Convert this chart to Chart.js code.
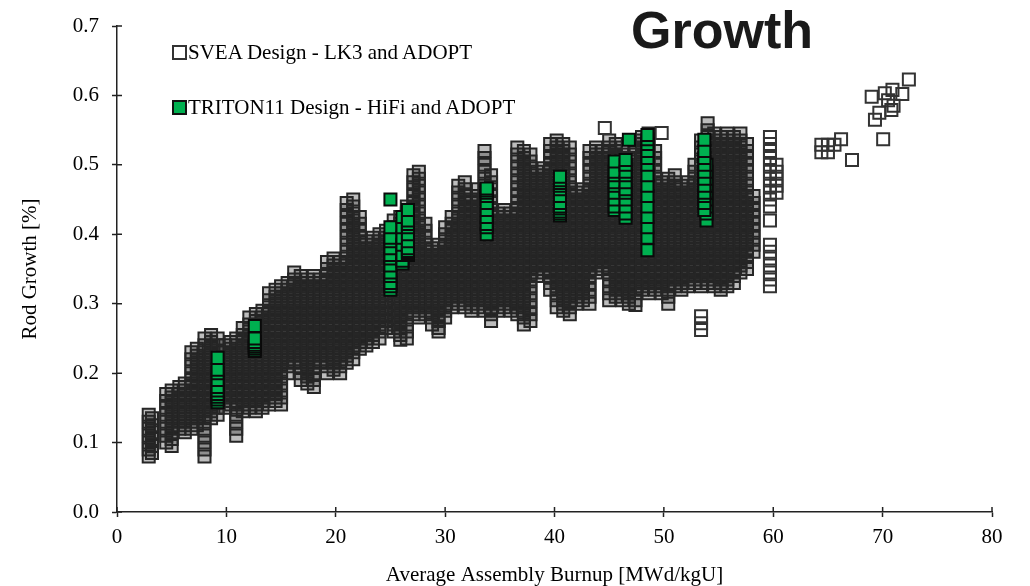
<!DOCTYPE html>
<html>
<head>
<meta charset="utf-8">
<script src="https://cdn.jsdelivr.net/npm/chart.js@4.4.0/dist/chart.umd.min.js"></script>
<style>
  body { margin: 0; background: #fff; }
  #wrap { position: relative; width: 1030px; height: 586px; }
  #title { position: absolute; left: 631px; top: 4px; font: bold 52px "Liberation Sans", Arial, sans-serif; color: #1a1a1a; line-height: 52px; }
  .leg { position: absolute; left: 172px; font: 21px "Liberation Serif", "Times New Roman", serif; color: #000; white-space: nowrap; line-height: 24px; }
  .leg span { display: inline-block; width: 11px; height: 11px; border: 2px solid #333; margin-right: 1px; vertical-align: -1px; }
</style>
</head>
<body>
<div id="wrap">
  <canvas id="myChart" width="1030" height="586"></canvas>
  <div id="title">Growth</div>
  <div class="leg" style="top:40px"><span style="background:#fff"></span>SVEA Design - LK3 and ADOPT</div>
  <div class="leg" style="top:95px"><span style="background:#00b050;border-color:#111"></span>TRITON11 Design - HiFi and ADOPT</div>
</div>
<script>
// each column: [burnup, [rod growth values]]
const sveaLow = [
  [2.9, [0.08, 0.09, 0.1, 0.11, 0.12, 0.13, 0.14]],
  [3.2, [0.085, 0.095, 0.105, 0.115, 0.125, 0.135]],
  [4.5, [0.1, 0.11, 0.12, 0.13, 0.14, 0.15, 0.16, 0.17]],
  [5.0, [0.095, 0.105, 0.115, 0.125, 0.135, 0.145, 0.155, 0.165, 0.175]],
  [5.7, [0.12, 0.13, 0.14, 0.15, 0.16, 0.17, 0.18]],
  [6.2, [0.115, 0.125, 0.135, 0.145, 0.155, 0.165, 0.175, 0.185]],
  [6.8, [0.12, 0.13, 0.14, 0.15, 0.16, 0.17, 0.18, 0.19, 0.2, 0.21, 0.22, 0.23]],
  [7.3, [0.125, 0.135, 0.145, 0.155, 0.165, 0.175, 0.185, 0.195, 0.205, 0.215, 0.225, 0.235]],
  [8.0, [0.08, 0.09, 0.1, 0.11, 0.12, 0.13, 0.14, 0.15, 0.16, 0.17, 0.18, 0.19, 0.2, 0.21, 0.22, 0.23, 0.24, 0.25]],
  [8.6, [0.135, 0.145, 0.155, 0.165, 0.175, 0.185, 0.195, 0.205, 0.215, 0.225, 0.235, 0.245, 0.255]],
  [9.2, [0.14, 0.15, 0.16, 0.17, 0.18, 0.19, 0.2, 0.21, 0.22, 0.23, 0.24, 0.25]],
  [9.9, [0.15, 0.16, 0.17, 0.18, 0.19, 0.2, 0.21, 0.22, 0.23, 0.24]],
  [10.4, [0.155, 0.165, 0.175, 0.185, 0.195, 0.205, 0.215, 0.225, 0.235, 0.245]],
  [10.9, [0.11, 0.12, 0.13, 0.14, 0.15, 0.16, 0.17, 0.18, 0.19, 0.2, 0.21, 0.22, 0.23, 0.24, 0.25]],
  [11.5, [0.145, 0.155, 0.165, 0.175, 0.185, 0.195, 0.205, 0.215, 0.225, 0.235, 0.245, 0.255, 0.265]],
  [12.1, [0.15, 0.16, 0.17, 0.18, 0.19, 0.2, 0.21, 0.22, 0.23, 0.24, 0.25, 0.26, 0.27, 0.28]],
  [12.7, [0.145, 0.155, 0.165, 0.175, 0.185, 0.195, 0.205, 0.215, 0.225, 0.235, 0.245, 0.255, 0.265, 0.275, 0.285]],
  [13.3, [0.15, 0.16, 0.17, 0.18, 0.19, 0.2, 0.21, 0.22, 0.23, 0.24, 0.25, 0.26, 0.27, 0.28, 0.29]],
  [13.9, [0.155, 0.165, 0.175, 0.185, 0.195, 0.205, 0.215, 0.225, 0.235, 0.245, 0.255, 0.265, 0.275, 0.285, 0.295, 0.305, 0.315]],
  [14.5, [0.16, 0.17, 0.18, 0.19, 0.2, 0.21, 0.22, 0.23, 0.24, 0.25, 0.26, 0.27, 0.28, 0.29, 0.3, 0.31, 0.32]],
  [15.0, [0.155, 0.165, 0.175, 0.185, 0.195, 0.205, 0.215, 0.225, 0.235, 0.245, 0.255, 0.265, 0.275, 0.285, 0.295, 0.305, 0.315, 0.325]],
  [15.6, [0.2, 0.21, 0.22, 0.23, 0.24, 0.25, 0.26, 0.27, 0.28, 0.29, 0.3, 0.31, 0.32, 0.33]],
  [16.2, [0.215, 0.225, 0.235, 0.245, 0.255, 0.265, 0.275, 0.285, 0.295, 0.305, 0.315, 0.325, 0.335, 0.345]],
  [16.8, [0.19, 0.2, 0.21, 0.22, 0.23, 0.24, 0.25, 0.26, 0.27, 0.28, 0.29, 0.3, 0.31, 0.32, 0.33, 0.34]],
  [17.4, [0.185, 0.195, 0.205, 0.215, 0.225, 0.235, 0.245, 0.255, 0.265, 0.275, 0.285, 0.295, 0.305, 0.315, 0.325, 0.335]],
  [18.0, [0.18, 0.19, 0.2, 0.21, 0.22, 0.23, 0.24, 0.25, 0.26, 0.27, 0.28, 0.29, 0.3, 0.31, 0.32, 0.33, 0.34]],
  [18.6, [0.215, 0.225, 0.235, 0.245, 0.255, 0.265, 0.275, 0.285, 0.295, 0.305, 0.315, 0.325, 0.335]],
  [19.2, [0.2, 0.21, 0.22, 0.23, 0.24, 0.25, 0.26, 0.27, 0.28, 0.29, 0.3, 0.31, 0.32, 0.33, 0.34, 0.35, 0.36]],
  [19.8, [0.205, 0.215, 0.225, 0.235, 0.245, 0.255, 0.265, 0.275, 0.285, 0.295, 0.305, 0.315, 0.325, 0.335, 0.345, 0.355, 0.365]],
  [20.4, [0.2, 0.21, 0.22, 0.23, 0.24, 0.25, 0.26, 0.27, 0.28, 0.29, 0.3, 0.31, 0.32, 0.33, 0.34, 0.35, 0.36]]
];

const sveaMid = [
  [21.0, [0.215, 0.225, 0.235, 0.245, 0.255, 0.265, 0.275, 0.285, 0.295, 0.305, 0.315, 0.325, 0.335, 0.345, 0.355, 0.365, 0.375, 0.385, 0.395, 0.405, 0.415, 0.425, 0.435, 0.445]],
  [21.6, [0.22, 0.23, 0.24, 0.25, 0.26, 0.27, 0.28, 0.29, 0.3, 0.31, 0.32, 0.33, 0.34, 0.35, 0.36, 0.37, 0.38, 0.39, 0.4, 0.41, 0.42, 0.43, 0.44, 0.45]],
  [22.2, [0.235, 0.245, 0.255, 0.265, 0.275, 0.285, 0.295, 0.305, 0.315, 0.325, 0.335, 0.345, 0.355, 0.365, 0.375, 0.385, 0.395, 0.405, 0.415, 0.425]],
  [22.8, [0.24, 0.25, 0.26, 0.27, 0.28, 0.29, 0.3, 0.31, 0.32, 0.33, 0.34, 0.35, 0.36, 0.37, 0.38, 0.39]],
  [23.4, [0.245, 0.255, 0.265, 0.275, 0.285, 0.295, 0.305, 0.315, 0.325, 0.335, 0.345, 0.355, 0.365, 0.375, 0.385, 0.395]],
  [24.0, [0.25, 0.26, 0.27, 0.28, 0.29, 0.3, 0.31, 0.32, 0.33, 0.34, 0.35, 0.36, 0.37, 0.38, 0.39, 0.4]],
  [24.6, [0.265, 0.275, 0.285, 0.295, 0.305, 0.315, 0.325, 0.335, 0.345, 0.355, 0.365, 0.375, 0.385, 0.395, 0.405]],
  [25.3, [0.26, 0.27, 0.28, 0.29, 0.3, 0.31, 0.32, 0.33, 0.34, 0.35, 0.36, 0.37, 0.38, 0.39, 0.4, 0.41, 0.42]],
  [25.9, [0.248, 0.255, 0.265, 0.275, 0.285, 0.295, 0.305, 0.315, 0.325, 0.335, 0.345, 0.355, 0.365, 0.375, 0.385, 0.395, 0.405, 0.415, 0.425]],
  [26.5, [0.25, 0.26, 0.27, 0.28, 0.29, 0.3, 0.31, 0.32, 0.33, 0.34, 0.35, 0.36, 0.37, 0.38, 0.39, 0.4, 0.41, 0.42, 0.43, 0.44]],
  [27.1, [0.285, 0.295, 0.305, 0.315, 0.325, 0.335, 0.345, 0.355, 0.365, 0.375, 0.385, 0.395, 0.405, 0.415, 0.425, 0.435, 0.445, 0.455, 0.465, 0.475, 0.485]],
  [27.6, [0.28, 0.29, 0.3, 0.31, 0.32, 0.33, 0.34, 0.35, 0.36, 0.37, 0.38, 0.39, 0.4, 0.41, 0.42, 0.43, 0.44, 0.45, 0.46, 0.47, 0.48, 0.49]],
  [28.2, [0.285, 0.295, 0.305, 0.315, 0.325, 0.335, 0.345, 0.355, 0.365, 0.375, 0.385, 0.395, 0.405, 0.415]],
  [28.8, [0.27, 0.28, 0.29, 0.3, 0.31, 0.32, 0.33, 0.34, 0.35, 0.36, 0.37, 0.38]],
  [29.4, [0.26, 0.265, 0.275, 0.285, 0.295, 0.305, 0.315, 0.325, 0.335, 0.345, 0.355, 0.365, 0.375, 0.385]],
  [30.0, [0.28, 0.29, 0.3, 0.31, 0.32, 0.33, 0.34, 0.35, 0.36, 0.37, 0.38, 0.39, 0.4, 0.41]],
  [30.6, [0.295, 0.305, 0.315, 0.325, 0.335, 0.345, 0.355, 0.365, 0.375, 0.385, 0.395, 0.405, 0.415, 0.425]],
  [31.2, [0.3, 0.31, 0.32, 0.33, 0.34, 0.35, 0.36, 0.37, 0.38, 0.39, 0.4, 0.41, 0.42, 0.43, 0.44, 0.45, 0.46, 0.47]],
  [31.8, [0.295, 0.305, 0.315, 0.325, 0.335, 0.345, 0.355, 0.365, 0.375, 0.385, 0.395, 0.405, 0.415, 0.425, 0.435, 0.445, 0.455, 0.465, 0.475]],
  [32.4, [0.29, 0.3, 0.31, 0.32, 0.33, 0.34, 0.35, 0.36, 0.37, 0.38, 0.39, 0.4, 0.41, 0.42, 0.43, 0.44, 0.45]],
  [33.0, [0.295, 0.305, 0.315, 0.325, 0.335, 0.345, 0.355, 0.365, 0.375, 0.385, 0.395, 0.405, 0.415, 0.425, 0.435, 0.445, 0.455, 0.465]],
  [33.6, [0.29, 0.3, 0.31, 0.32, 0.33, 0.34, 0.35, 0.36, 0.37, 0.38, 0.39, 0.4, 0.41, 0.42, 0.43, 0.44, 0.45, 0.46, 0.47, 0.48, 0.49, 0.5, 0.51, 0.52]],
  [34.2, [0.275, 0.285, 0.295, 0.305, 0.315, 0.325, 0.335, 0.345, 0.355, 0.365, 0.375, 0.385, 0.395, 0.405, 0.415, 0.425, 0.435, 0.445, 0.455, 0.465, 0.475, 0.485]],
  [34.8, [0.29, 0.3, 0.31, 0.32, 0.33, 0.34, 0.35, 0.36, 0.37, 0.38, 0.39, 0.4, 0.41, 0.42, 0.43]],
  [35.4, [0.295, 0.305, 0.315, 0.325, 0.335, 0.345, 0.355, 0.365, 0.375, 0.385, 0.395, 0.405, 0.415, 0.425, 0.435]],
  [36.0, [0.29, 0.3, 0.31, 0.32, 0.33, 0.34, 0.35, 0.36, 0.37, 0.38, 0.39, 0.4, 0.41, 0.42, 0.43]],
  [36.6, [0.285, 0.295, 0.305, 0.315, 0.325, 0.335, 0.345, 0.355, 0.365, 0.375, 0.385, 0.395, 0.405, 0.415, 0.425, 0.435, 0.445, 0.455, 0.465, 0.475, 0.485, 0.495, 0.505, 0.515, 0.525]],
  [37.2, [0.27, 0.28, 0.29, 0.3, 0.31, 0.32, 0.33, 0.34, 0.35, 0.36, 0.37, 0.38, 0.39, 0.4, 0.41, 0.42, 0.43, 0.44, 0.45, 0.46, 0.47, 0.48, 0.49, 0.5, 0.51, 0.52]],
  [37.8, [0.275, 0.285, 0.295, 0.305, 0.315, 0.325, 0.335, 0.345, 0.355, 0.365, 0.375, 0.385, 0.395, 0.405, 0.415, 0.425, 0.435, 0.445, 0.455, 0.465, 0.475, 0.485, 0.495, 0.505, 0.515]],
  [38.4, [0.34, 0.35, 0.36, 0.37, 0.38, 0.39, 0.4, 0.41, 0.42, 0.43, 0.44, 0.45, 0.46, 0.47, 0.48, 0.49]],
  [39.0, [0.345, 0.355, 0.365, 0.375, 0.385, 0.395, 0.405, 0.415, 0.425, 0.435, 0.445, 0.455, 0.465, 0.475, 0.485, 0.495]],
  [39.6, [0.32, 0.33, 0.34, 0.35, 0.36, 0.37, 0.38, 0.39, 0.4, 0.41, 0.42, 0.43, 0.44, 0.45, 0.46, 0.47, 0.48, 0.49, 0.5, 0.51, 0.52, 0.53]]
];

const sveaHigh = [
  [40.2, [0.295, 0.305, 0.315, 0.325, 0.335, 0.345, 0.355, 0.365, 0.375, 0.385, 0.395, 0.405, 0.415, 0.425, 0.435, 0.445, 0.455, 0.465, 0.475, 0.485, 0.495, 0.505, 0.515, 0.525, 0.535]],
  [40.8, [0.29, 0.3, 0.31, 0.32, 0.33, 0.34, 0.35, 0.36, 0.37, 0.38, 0.39, 0.4, 0.41, 0.42, 0.43, 0.44, 0.45, 0.46, 0.47, 0.48, 0.49, 0.5, 0.51, 0.52, 0.53]],
  [41.4, [0.285, 0.295, 0.305, 0.315, 0.325, 0.335, 0.345, 0.355, 0.365, 0.375, 0.385, 0.395, 0.405, 0.415, 0.425, 0.435, 0.445, 0.455, 0.465, 0.475, 0.485, 0.495, 0.505, 0.515, 0.525]],
  [42.0, [0.3, 0.31, 0.32, 0.33, 0.34, 0.35, 0.36, 0.37, 0.38, 0.39, 0.4, 0.41, 0.42, 0.43, 0.44, 0.45, 0.46]],
  [42.6, [0.305, 0.315, 0.325, 0.335, 0.345, 0.355, 0.365, 0.375, 0.385, 0.395, 0.405, 0.415, 0.425, 0.435, 0.445, 0.455, 0.465]],
  [43.2, [0.3, 0.31, 0.32, 0.33, 0.34, 0.35, 0.36, 0.37, 0.38, 0.39, 0.4, 0.41, 0.42, 0.43, 0.44, 0.45, 0.46, 0.47, 0.48, 0.49, 0.5, 0.51, 0.52]],
  [43.8, [0.345, 0.355, 0.365, 0.375, 0.385, 0.395, 0.405, 0.415, 0.425, 0.435, 0.445, 0.455, 0.465, 0.475, 0.485, 0.495, 0.505, 0.515, 0.525]],
  [44.4, [0.35, 0.36, 0.37, 0.38, 0.39, 0.4, 0.41, 0.42, 0.43, 0.44, 0.45, 0.46, 0.47, 0.48, 0.49, 0.5, 0.51, 0.52]],
  [45.0, [0.305, 0.315, 0.325, 0.335, 0.345, 0.355, 0.365, 0.375, 0.385, 0.395, 0.405, 0.415, 0.425, 0.435, 0.445, 0.455, 0.465, 0.475, 0.485, 0.495, 0.505, 0.515, 0.525, 0.535]],
  [45.6, [0.31, 0.32, 0.33, 0.34, 0.35, 0.36, 0.37, 0.38, 0.39, 0.4, 0.41, 0.42, 0.43, 0.44, 0.45, 0.46, 0.47, 0.48, 0.49, 0.5, 0.51, 0.52, 0.53]],
  [46.2, [0.305, 0.315, 0.325, 0.335, 0.345, 0.355, 0.365, 0.375, 0.385, 0.395, 0.405, 0.415, 0.425, 0.435, 0.445, 0.455, 0.465, 0.475, 0.485, 0.495, 0.505, 0.515, 0.525]],
  [46.8, [0.3, 0.31, 0.32, 0.33, 0.34, 0.35, 0.36, 0.37, 0.38, 0.39, 0.4, 0.41, 0.42, 0.43, 0.44, 0.45, 0.46, 0.47, 0.48, 0.49, 0.5, 0.51]],
  [47.4, [0.298, 0.305, 0.315, 0.325, 0.335, 0.345, 0.355, 0.365, 0.375, 0.385, 0.395, 0.405, 0.415, 0.425, 0.435, 0.445, 0.455, 0.465, 0.475, 0.485, 0.495, 0.505, 0.515, 0.525, 0.535]],
  [48.0, [0.32, 0.33, 0.34, 0.35, 0.36, 0.37, 0.38, 0.39, 0.4, 0.41, 0.42, 0.43, 0.44, 0.45, 0.46, 0.47, 0.48, 0.49, 0.5, 0.51, 0.52, 0.53, 0.54]],
  [48.6, [0.315, 0.325, 0.335, 0.345, 0.355, 0.365, 0.375, 0.385, 0.395, 0.405, 0.415, 0.425, 0.435, 0.445, 0.455, 0.465, 0.475, 0.485, 0.495, 0.505, 0.515, 0.525, 0.535, 0.545]],
  [49.2, [0.32, 0.33, 0.34, 0.35, 0.36, 0.37, 0.38, 0.39, 0.4, 0.41, 0.42, 0.43, 0.44, 0.45, 0.46, 0.47, 0.48, 0.49, 0.5, 0.51, 0.52]],
  [49.8, [0.315, 0.325, 0.335, 0.345, 0.355, 0.365, 0.375, 0.385, 0.395, 0.405, 0.415, 0.425, 0.435, 0.445, 0.455, 0.465, 0.475]],
  [50.4, [0.3, 0.31, 0.32, 0.33, 0.34, 0.35, 0.36, 0.37, 0.38, 0.39, 0.4, 0.41, 0.42, 0.43, 0.44, 0.45, 0.46, 0.47, 0.48]],
  [51.0, [0.325, 0.335, 0.345, 0.355, 0.365, 0.375, 0.385, 0.395, 0.405, 0.415, 0.425, 0.435, 0.445, 0.455, 0.465, 0.475, 0.485]],
  [51.6, [0.32, 0.33, 0.34, 0.35, 0.36, 0.37, 0.38, 0.39, 0.4, 0.41, 0.42, 0.43, 0.44, 0.45, 0.46, 0.47]],
  [52.2, [0.325, 0.335, 0.345, 0.355, 0.365, 0.375, 0.385, 0.395, 0.405, 0.415, 0.425, 0.435, 0.445, 0.455, 0.465, 0.475]],
  [52.8, [0.33, 0.34, 0.35, 0.36, 0.37, 0.38, 0.39, 0.4, 0.41, 0.42, 0.43, 0.44, 0.45, 0.46, 0.47, 0.48, 0.49, 0.5]],
  [53.4, [0.325, 0.335, 0.345, 0.355, 0.365, 0.375, 0.385, 0.395, 0.405, 0.415, 0.425, 0.435, 0.445, 0.455, 0.465, 0.475, 0.485, 0.495, 0.505, 0.515, 0.525, 0.535]],
  [54.0, [0.33, 0.34, 0.35, 0.36, 0.37, 0.38, 0.39, 0.4, 0.41, 0.42, 0.43, 0.44, 0.45, 0.46, 0.47, 0.48, 0.49, 0.5, 0.51, 0.52, 0.53, 0.54, 0.55, 0.56]],
  [54.6, [0.325, 0.335, 0.345, 0.355, 0.365, 0.375, 0.385, 0.395, 0.405, 0.415, 0.425, 0.435, 0.445, 0.455, 0.465, 0.475, 0.485, 0.495, 0.505, 0.515, 0.525, 0.535, 0.545]],
  [55.2, [0.32, 0.33, 0.34, 0.35, 0.36, 0.37, 0.38, 0.39, 0.4, 0.41, 0.42, 0.43, 0.44, 0.45, 0.46, 0.47, 0.48, 0.49, 0.5, 0.51, 0.52, 0.53, 0.54]],
  [55.8, [0.325, 0.335, 0.345, 0.355, 0.365, 0.375, 0.385, 0.395, 0.405, 0.415, 0.425, 0.435, 0.445, 0.455, 0.465, 0.475, 0.485, 0.495, 0.505, 0.515, 0.525, 0.535, 0.545]],
  [56.4, [0.33, 0.34, 0.35, 0.36, 0.37, 0.38, 0.39, 0.4, 0.41, 0.42, 0.43, 0.44, 0.45, 0.46, 0.47, 0.48, 0.49, 0.5, 0.51, 0.52, 0.53, 0.54]],
  [57.0, [0.345, 0.355, 0.365, 0.375, 0.385, 0.395, 0.405, 0.415, 0.425, 0.435, 0.445, 0.455, 0.465, 0.475, 0.485, 0.495, 0.505, 0.515, 0.525, 0.535, 0.545]],
  [57.6, [0.35, 0.36, 0.37, 0.38, 0.39, 0.4, 0.41, 0.42, 0.43, 0.44, 0.45, 0.46, 0.47, 0.48, 0.49, 0.5, 0.51, 0.52, 0.53]],
  [58.2, [0.375, 0.385, 0.395, 0.405, 0.415, 0.425, 0.435, 0.445, 0.455]]
];

// isolated squares and thin ladders outside the dense cloud
const sveaSparse = [
  [44.6, [0.553]], [49.8, [0.546]], [53.4, [0.262, 0.272, 0.282]],
  [59.7, [0.325, 0.335, 0.345, 0.355, 0.365, 0.375, 0.385, 0.42, 0.44, 0.45, 0.46, 0.47, 0.48, 0.49, 0.5, 0.51, 0.52, 0.53, 0.54]],
  [60.3, [0.46, 0.47, 0.48, 0.49, 0.5]],
  [64.4, [0.518, 0.529]], [65.0, [0.518, 0.529]], [65.6, [0.529]], [66.2, [0.537]], [67.2, [0.507]],
  [69.0, [0.598]], [69.3, [0.565]], [69.7, [0.575]], [70.05, [0.537]], [70.2, [0.603]], [70.5, [0.593]],
  [70.8, [0.579]], [70.9, [0.608]], [71.0, [0.585]], [71.8, [0.602]], [72.4, [0.623]]
];

const tritonColumns = [
  [9.2, [0.158, 0.162, 0.166, 0.17, 0.175, 0.18, 0.19, 0.2, 0.205, 0.222]],
  [12.6, [0.232, 0.235, 0.238, 0.241, 0.245, 0.25, 0.268]],
  [25.0, [0.32, 0.325, 0.33, 0.34, 0.345, 0.355, 0.365, 0.37, 0.38, 0.39, 0.395, 0.41, 0.45]],
  [26.1, [0.358, 0.362, 0.37, 0.385, 0.395, 0.41, 0.425]],
  [26.6, [0.37, 0.373, 0.376, 0.38, 0.39, 0.4, 0.41, 0.415, 0.42, 0.435]],
  [33.8, [0.4, 0.41, 0.415, 0.425, 0.435, 0.445, 0.455, 0.46, 0.463, 0.466]],
  [40.5, [0.427, 0.43, 0.433, 0.437, 0.44, 0.445, 0.455, 0.465, 0.47, 0.474, 0.478, 0.483]],
  [45.5, [0.435, 0.44, 0.45, 0.46, 0.47, 0.475, 0.485, 0.49, 0.505]],
  [46.5, [0.424, 0.43, 0.44, 0.45, 0.46, 0.465, 0.475, 0.485, 0.49, 0.5, 0.507]],
  [46.8, [0.536]],
  [48.5, [0.377, 0.395, 0.41, 0.425, 0.44, 0.455, 0.47, 0.485, 0.5, 0.51, 0.52, 0.53, 0.537, 0.543]],
  [53.9, [0.42, 0.43, 0.44, 0.45, 0.46, 0.47, 0.48, 0.49, 0.5]],
  [53.7, [0.435, 0.445, 0.455, 0.46, 0.47, 0.48, 0.49, 0.5, 0.51, 0.52, 0.536]]
];

function toPoints(columns) {
  let pts = [];
  for (let i = 0; i < columns.length; i++) {
    for (let j = 0; j < columns[i][1].length; j++) {
      pts.push({ x: columns[i][0], y: columns[i][1][j] });
    }
  }
  return pts;
}

const sveaPoints = toPoints(sveaLow.concat(sveaMid, sveaHigh));
const sveaSparsePoints = toPoints(sveaSparse);
const tritonPoints = toPoints(tritonColumns);

const serif = '"Liberation Serif", "Times New Roman", serif';
const axisColor = '#222';

// tick marks that cross the axis line (inner half)
const innerTicks = {
  id: 'innerTicks',
  beforeDatasetsDraw(chart) {
    const ctx = chart.ctx;
    const xs = chart.scales.x;
    const ys = chart.scales.y;
    ctx.save();
    ctx.strokeStyle = axisColor;
    ctx.lineWidth = 1.5;
    ctx.beginPath();
    xs.ticks.forEach(function (t) {
      const px = xs.getPixelForValue(t.value);
      ctx.moveTo(px, ys.bottom);
      ctx.lineTo(px, ys.bottom - 5);
    });
    ys.ticks.forEach(function (t) {
      const py = ys.getPixelForValue(t.value);
      ctx.moveTo(xs.left, py);
      ctx.lineTo(xs.left + 5, py);
    });
    ctx.stroke();
    ctx.restore();
  }
};

const ctx = document.getElementById('myChart').getContext('2d');
const chart = new Chart(ctx, {
  type: 'scatter',
  data: {
    datasets: [{
      label: 'SVEA Design - LK3 and ADOPT',
      data: sveaPoints,
      order: 2,
      pointStyle: 'rect',
      pointRadius: 8.5,
      borderWidth: 2,
      borderColor: '#262626',
      backgroundColor: 'rgba(38,38,38,0.3)'
    }, {
      label: 'SVEA Design - LK3 and ADOPT',
      data: sveaSparsePoints,
      order: 1,
      pointStyle: 'rect',
      pointRadius: 8.5,
      borderWidth: 2,
      borderColor: '#333',
      backgroundColor: 'rgba(255,255,255,0)'
    }, {
      label: 'TRITON11 Design - HiFi and ADOPT',
      data: tritonPoints,
      order: 0,
      pointStyle: 'rect',
      pointRadius: 8.5,
      borderWidth: 2,
      borderColor: '#0a0a0a',
      backgroundColor: '#00b050'
    }]
  },
  options: {
    responsive: false,
    animation: false,
    events: [],
    layout: { padding: { top: 26, right: 38, left: 0, bottom: 0 } },
    plugins: {
      legend: { display: false },
      tooltip: { enabled: false }
    },
    scales: {
      x: {
        type: 'linear',
        min: 0,
        max: 80,
        ticks: { stepSize: 10, color: '#000', padding: 8, font: { family: serif, size: 21 } },
        grid: { drawOnChartArea: false, tickLength: 5, color: axisColor, tickWidth: 1.5 },
        border: { color: axisColor, width: 1.5 },
        title: { display: true, text: 'Average Assembly Burnup [MWd/kgU]', color: '#000', font: { family: serif, size: 21, lineHeight: 1 }, padding: { top: 0, bottom: 0 } },
        afterFit: function (scale) { scale.height = 74; }
      },
      y: {
        type: 'linear',
        min: 0,
        max: 0.7,
        ticks: {
          stepSize: 0.1,
          color: '#000',
          padding: 13,
          font: { family: serif, size: 21 },
          callback: function (v) { return v.toFixed(1); }
        },
        grid: { drawOnChartArea: false, tickLength: 5, color: axisColor, tickWidth: 1.5 },
        border: { color: axisColor, width: 1.5 },
        title: { display: true, text: 'Rod Growth [%]', color: '#000', font: { family: serif, size: 21 }, padding: { top: 18, bottom: 0 } },
        afterFit: function (scale) { scale.width = 117; }
      }
    }
  },
  plugins: [innerTicks]
});
</script>
</body>
</html>
